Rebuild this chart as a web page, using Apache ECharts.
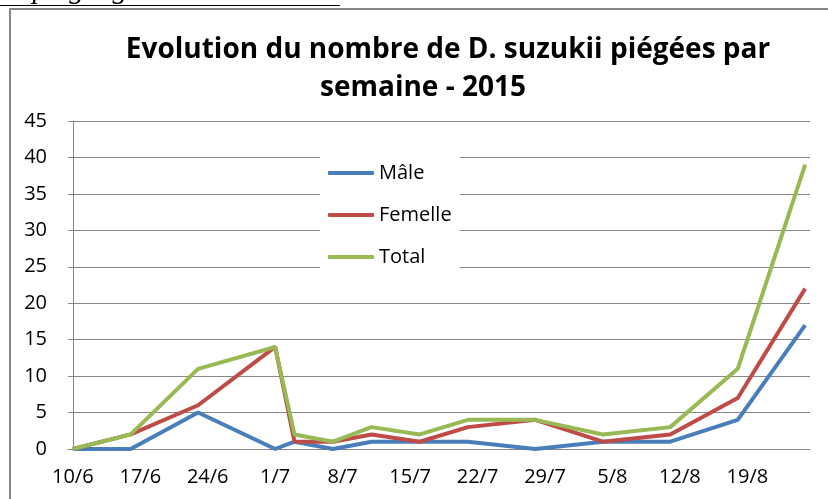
<!DOCTYPE html>
<html>
<head>
<meta charset="utf-8">
<script src="https://cdn.jsdelivr.net/npm/echarts@6/dist/echarts.min.js"></script>
<style>
html,body{margin:0;padding:0;background:#fff;}
#c{width:828px;height:499px;}
</style>
</head>
<body>
<div id="c"></div>
<script>
// ---- data ----
var dates = ['2015-06-10','2015-06-16','2015-06-23','2015-07-01','2015-07-03','2015-07-07','2015-07-11','2015-07-16','2015-07-21','2015-07-28','2015-08-04','2015-08-11','2015-08-18','2015-08-25'];
var male   = [0, 0, 5, 0, 1, 0, 1, 1, 1, 0, 1, 1, 4, 17];
var female = [0, 2, 6, 14, 1, 1, 2, 1, 3, 4, 1, 2, 7, 22];
var total  = [0, 2, 11, 14, 2, 1, 3, 2, 4, 4, 2, 3, 11, 39];
var tickDates = ['2015-06-10','2015-06-17','2015-06-24','2015-07-01','2015-07-08','2015-07-15','2015-07-22','2015-07-29','2015-08-05','2015-08-12','2015-08-19'];
var tickLabels = ['10/6','17/6','24/6','1/7','8/7','15/7','22/7','29/7','5/8','12/8','19/8'];
var seriesNames = ['Mâle','Femelle','Total'];
var titleLine1 = 'Evolution du nombre de D. suzukii piégées par';
var titleLine2 = 'semaine - 2015';
var pageHeading = 'es piégeages de D. suzukii';

// ---- helpers ----
function dayNum(s){ var p = s.split('-'); return Date.UTC(+p[0], +p[1]-1, +p[2]) / 86400000; }
var d0 = dayNum(dates[0]);
function off(s){ return dayNum(s) - d0; }
function pairs(vals){ return dates.map(function(d,i){ return [off(d), vals[i]]; }); }
var tickVals = tickDates.map(off);
var labelMap = {};
tickVals.forEach(function(v,i){ labelMap[v] = tickLabels[i]; });
var lastDay = off(dates[dates.length-1]);

var font = 'Open Sans';
var grey = '#868686';
var chart = echarts.init(document.getElementById('c'), null, {renderer:'canvas'});
var option = {
  animation: false,
  backgroundColor: '#fff',
  textStyle: {fontFamily: font},
  title: [
    {text: titleLine1, left: 448, top: 50, padding: 0, textAlign: 'center', textVerticalAlign: 'middle',
     textStyle: {fontFamily: font, fontWeight: 'bold', fontSize: 28, color: '#000'}},
    {text: titleLine2, left: 423, top: 88, padding: 0, textAlign: 'center', textVerticalAlign: 'middle',
     textStyle: {fontFamily: font, fontWeight: 'bold', fontSize: 28, color: '#000'}}
  ],
  graphic: [
    {type: 'rect', shape: {x: 10, y: 9, width: 840, height: 520}, style: {fill: 'none', stroke: grey, lineWidth: 2}, z: 100},
    {type: 'text', x: 0, y: 5, style: {text: pageHeading, font: 'italic 30px "Liberation Serif"', fill: '#000', verticalAlign: 'bottom'}},
    {type: 'line', shape: {x1: 0, y1: 5.5, x2: 340, y2: 5.5}, style: {stroke: '#000', lineWidth: 1}}
  ],
  legend: {
    orient: 'vertical', left: 320, top: 141,
    padding: [22, 8, 18, 8],
    backgroundColor: '#fff',
    itemWidth: 46, itemHeight: 4, itemGap: 22,
    icon: 'roundRect',
    textStyle: {fontFamily: font, fontSize: 20, color: '#000', padding: [0,0,0,0]},
    data: seriesNames
  },
  grid: {left: 68, right: 18, top: 121, bottom: 50, containLabel: false},
  xAxis: {
    type: 'value', min: -0.5, max: lastDay + 0.5,
    axisLine: {show: true, lineStyle: {color: grey, width: 1}},
    axisTick: {show: false},
    splitLine: {show: false},
    axisLabel: {customValues: tickVals, margin: 18, fontSize: 20, color: '#000', fontFamily: font,
      formatter: function(v){ return labelMap[v] !== undefined ? labelMap[v] : ''; }}
  },
  yAxis: {
    type: 'value', min: 0, max: 45, interval: 5,
    axisLine: {show: true, lineStyle: {color: grey, width: 1}},
    axisTick: {show: false},
    splitLine: {show: true, lineStyle: {color: grey, width: 1}},
    axisLabel: {margin: 21, fontSize: 20, color: '#000', fontFamily: font}
  },
  series: [
    {name: seriesNames[0], type: 'line', data: pairs(male), showSymbol: false, symbol: 'none', color: '#4a7ebb', lineStyle: {width: 4, color: '#4a7ebb'}},
    {name: seriesNames[1], type: 'line', data: pairs(female), showSymbol: false, symbol: 'none', color: '#be4b48', lineStyle: {width: 4, color: '#be4b48'}},
    {name: seriesNames[2], type: 'line', data: pairs(total), showSymbol: false, symbol: 'none', color: '#98b954', lineStyle: {width: 4, color: '#98b954'}}
  ]
};
chart.setOption(option);
</script>
</body>
</html>
